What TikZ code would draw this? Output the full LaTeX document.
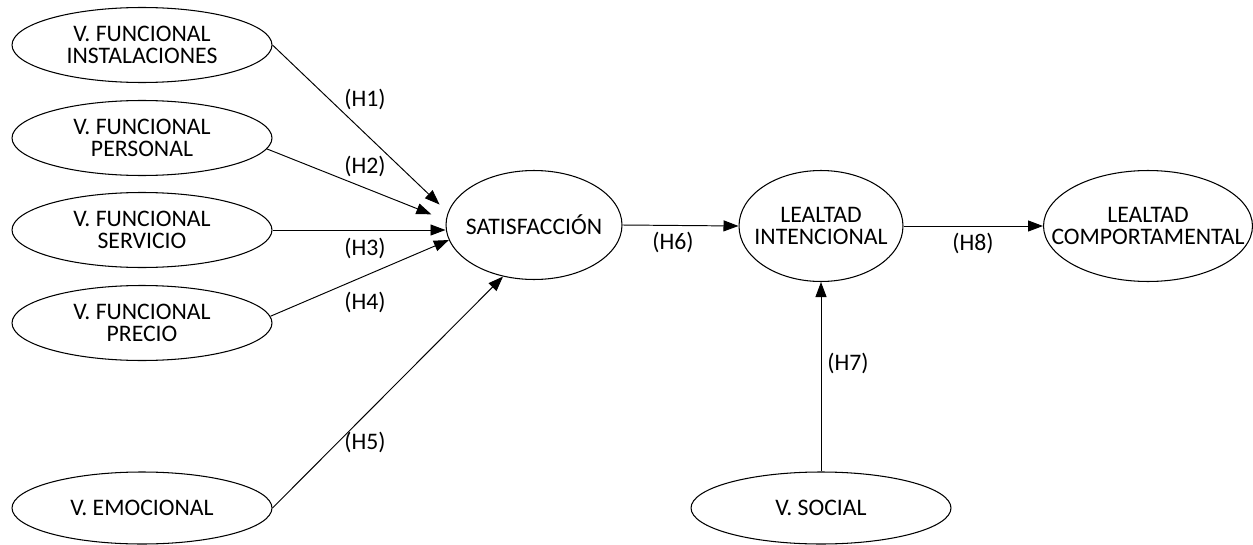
\documentclass[tikz,border=0pt]{standalone}
\usepackage{fontspec}
\setmainfont{Carlito}
\usetikzlibrary{arrows.meta, shapes.geometric}

\begin{document}
\begin{tikzpicture}[
    x=0.02cm, y=-0.02cm,
    latent/.style={draw, ellipse, line width=0.6pt, inner xsep=-5mm, inner ysep=0pt, align=center, font=\fontsize{13.5}{12.3}\selectfont},
    side/.style={latent, minimum width=5.2cm, minimum height=1.5cm},
    effect/.style={-{Triangle[length=3mm, width=2.2mm]}, line width=0.55pt},
    hyp/.style={inner sep=0pt, font=\fontsize{13.5}{12.3}\selectfont}
]
    \useasboundingbox (0,0) rectangle (1253,544);

    % Funcional / emocional values
    \node[side] (inst) at (142,45) {V. FUNCIONAL\\INSTALACIONES};
    \node[side] (pers) at (142,138) {V. FUNCIONAL\\PERSONAL};
    \node[side] (serv) at (142,230) {V. FUNCIONAL\\SERVICIO};
    \node[side] (prec) at (142,323) {V. FUNCIONAL\\PRECIO};
    \node[side, minimum height=1.44cm] (emo) at (142,508) {V. EMOCIONAL};

    % Central constructs
    \node[latent, minimum width=3.52cm, minimum height=2.18cm] (sat) at (534,225) {SATISFACCIÓN};
    \node[latent, minimum width=3.28cm, minimum height=2.22cm] (lint) at (821,226) {LEALTAD\\INTENCIONAL};
    \node[latent, minimum width=4.18cm, minimum height=2.22cm] (lcomp) at (1148,226) {LEALTAD\\COMPORTAMENTAL};
    \node[side, minimum height=1.44cm] (soc) at (821,508) {V. SOCIAL};

    % Hypotheses
    \draw[effect] (inst.east) -- ([xshift=-7pt]sat.166);
    \draw[effect] (pers.-5) -- ([xshift=-9pt]sat.173);
    \draw[effect] (serv.east) -- (serv.east -| sat.west);
    \draw[effect] (prec.3) -- (sat.190);
    \draw[effect] (emo.east) -- (sat.239);
    \draw[effect] (sat.east) -- (lint.west);
    \draw[effect] (soc.north) -- (lint.south);
    \draw[effect] (lint.east) -- (lcomp.west);

    \node[hyp] (h1) at (365,99) {(H1)};
    \node[hyp] (h2) at (365,166) {(H2)};
    \node[hyp] (h3) at (365,248) {(H3)};
    \node[hyp] (h4) at (365,302) {(H4)};
    \node[hyp] (h5) at (365,442) {(H5)};
    \node[hyp] (h6) at (673,242) {(H6)};
    \node[hyp] (h7) at (848,363) {(H7)};
    \node[hyp] (h8) at (973,243) {(H8)};
\end{tikzpicture}
\end{document}
